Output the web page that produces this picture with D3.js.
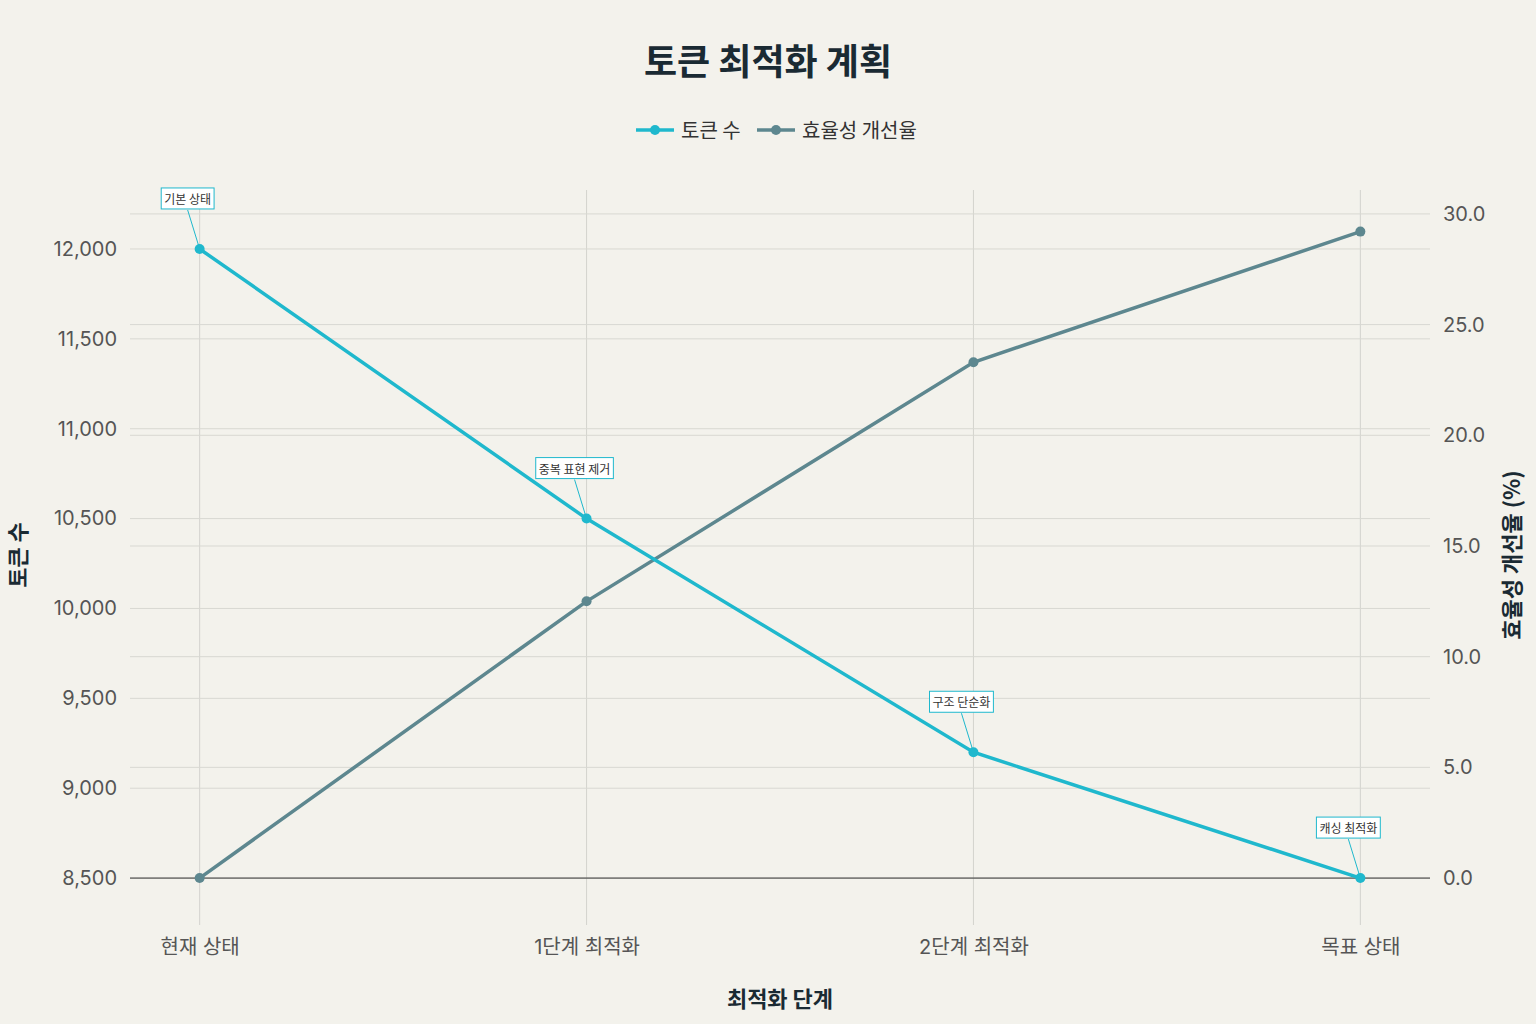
<!DOCTYPE html>
<html><head><meta charset="utf-8">
<script src="https://cdn.jsdelivr.net/npm/d3@7"></script>
<style>body{margin:0;background:#F3F2EC}svg{font-family:"Noto Sans CJK KR","Noto Sans",sans-serif}</style>
</head><body><svg width="1536" height="1024"></svg>
<script>
const categories=["현재 상태","1단계 최적화","2단계 최적화","목표 상태"];
const tokens=[12000,10500,9200,8500];
const efficiency=[0,12.5,23.3,29.2];
const annotations=["기본 상태","중복 표현 제거","구조 단순화","캐싱 최적화"];
const leftTicks=[8500,9000,9500,10000,10500,11000,11500,12000];
const rightTicks=[0,5,10,15,20,25,30];
const c1="#1FB8CD",c2="#5D878F";
const svg=d3.select("svg");
svg.append("rect").attr("width",1536).attr("height",1024).attr("fill","#F3F2EC");
const L=130,R=1430,T=190,B=925;
const x=d3.scaleLinear().domain([-0.18,3.18]).range([L,R]);
const yl=d3.scaleLinear().domain([8239,12328]).range([B,T]);
const yr=d3.scaleLinear().domain([-2.12,31.08]).range([B,T]);
const g=svg.append("g");
categories.forEach((c,i)=>g.append("line").attr("x1",x(i)).attr("x2",x(i)).attr("y1",T).attr("y2",B).attr("stroke","#d3d3ce"));
leftTicks.forEach(t=>g.append("line").attr("x1",L).attr("x2",R).attr("y1",yl(t)).attr("y2",yl(t)).attr("stroke","#d8d8d2"));
rightTicks.forEach(t=>g.append("line").attr("x1",L).attr("x2",R).attr("y1",yr(t)).attr("y2",yr(t)).attr("stroke",t===0?"#333":"#d8d8d2"));
const axL=svg.append("g").attr("transform",`translate(${L-10},0)`).call(d3.axisLeft(yl).tickValues(leftTicks).tickFormat(d3.format(",")).tickSize(0));
const axR=svg.append("g").attr("transform",`translate(${R+10},0)`).call(d3.axisRight(yr).tickValues(rightTicks).tickFormat(d3.format(".1f")).tickSize(0));
const axB=svg.append("g").attr("transform",`translate(0,${B+12})`).call(d3.axisBottom(x).tickValues([0,1,2,3]).tickFormat(i=>categories[i]).tickSize(0));
[axL,axR,axB].forEach(a=>{a.select(".domain").remove();a.selectAll("text").attr("font-size",20).attr("fill","#555").attr("font-family","Inter, 'Noto Sans CJK KR'");});
const l1=d3.line().x((d,i)=>x(i)).y(d=>yl(d));
const l2=d3.line().x((d,i)=>x(i)).y(d=>yr(d));
svg.append("path").attr("d",l2(efficiency)).attr("fill","none").attr("stroke",c2).attr("stroke-width",3.5);
svg.append("path").attr("d",l1(tokens)).attr("fill","none").attr("stroke",c1).attr("stroke-width",3.5);
efficiency.forEach((d,i)=>svg.append("circle").attr("cx",x(i)).attr("cy",yr(d)).attr("r",5).attr("fill",c2));
tokens.forEach((d,i)=>svg.append("circle").attr("cx",x(i)).attr("cy",yl(d)).attr("r",5).attr("fill",c1));
annotations.forEach((a,i)=>{
  const px=x(i),py=yl(tokens[i]),bx=px-12,by=py-49;
  const ag=svg.append("g");
  ag.append("line").attr("x1",bx).attr("y1",by+10).attr("x2",px).attr("y2",py).attr("stroke",c1);
  const r=ag.append("rect");
  const t=ag.append("text").attr("x",bx).attr("y",by+4).attr("text-anchor","middle").attr("font-size",12).attr("fill","#333").text(a);
  const bb=t.node().getBBox();
  r.attr("x",bb.x-3).attr("y",bb.y-2).attr("width",bb.width+6).attr("height",bb.height+4).attr("fill","#fff").attr("stroke",c1);
});
svg.append("text").attr("x",768).attr("y",75).attr("text-anchor","middle").attr("font-size",36).attr("font-weight","bold").attr("fill","#1a2a33").text("토큰 최적화 계획");
svg.append("text").attr("x",780).attr("y",1007).attr("text-anchor","middle").attr("font-size",22).attr("font-weight","bold").attr("fill","#1a2a33").text("최적화 단계");
svg.append("text").attr("transform","translate(26,555) rotate(-90)").attr("text-anchor","middle").attr("font-size",22).attr("font-weight","bold").attr("fill","#1a2a33").text("토큰 수");
svg.append("text").attr("transform","translate(1520,555) rotate(-90)").attr("text-anchor","middle").attr("font-size",22).attr("font-weight","bold").attr("fill","#1a2a33").text("효율성 개선율 (%)");
[[636,c1,"토큰 수"],[757,c2,"효율성 개선율"]].forEach(([lx,c,t])=>{
  svg.append("line").attr("x1",lx).attr("x2",lx+38).attr("y1",130).attr("y2",130).attr("stroke",c).attr("stroke-width",3.5);
  svg.append("circle").attr("cx",lx+19).attr("cy",130).attr("r",5).attr("fill",c);
  svg.append("text").attr("x",lx+45).attr("y",138).attr("font-size",20).attr("fill","#333").text(t);
});
</script></body></html>
